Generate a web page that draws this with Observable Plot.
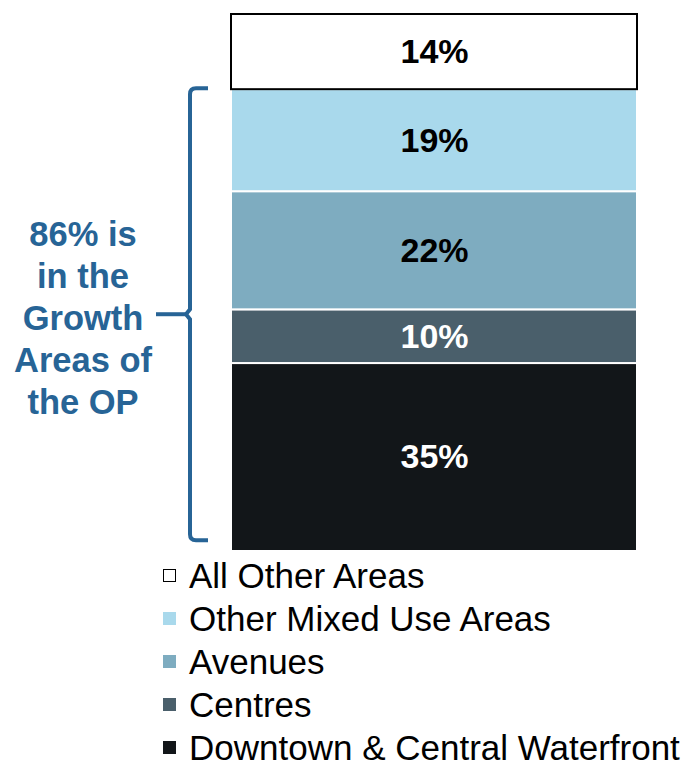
<!DOCTYPE html>
<html>
<head>
<meta charset="utf-8">
<script src="https://cdn.jsdelivr.net/npm/d3@7"></script>
<script src="https://cdn.jsdelivr.net/npm/@observablehq/plot@0.6"></script>
<style>
  body { margin: 0; background: #fff; font-family: "Liberation Sans", Arial, sans-serif; overflow: hidden; }
  #wrap { width: 688px; }
  .legend { padding-left: 163px; }
  .row { height: 43px; display: flex; align-items: center; font-size: 35px; color: #000; white-space: nowrap; }
  .sw { width: 13px; height: 13px; margin-right: 13px; box-sizing: border-box; flex: none; }
</style>
</head>
<body>
<div id="wrap"></div>
<script>
// Legend order (top to bottom of the bar)
const categories = ["All Other Areas", "Other Mixed Use Areas", "Avenues", "Centres", "Downtown & Central Waterfront"];
const shares = [14, 19, 22, 10, 35];
const colors = ["#ffffff", "#a9d9ec", "#7eacc0", "#4a5f6b", "#121619"];
const labelColors = ["#000000", "#000000", "#000000", "#ffffff", "#ffffff"];
const outlineColors = ["#000000", "#ffffff", "#ffffff", "#ffffff", "#ffffff"];
const annotationLines = ["86% is", "in the", "Growth", "Areas of", "the OP"];
const growthShare = 86;
const accent = "#276496";

const rows = categories.map((c, i) => ({
  category: c, value: shares[i], fill: colors[i], label: shares[i] + "%",
  labelColor: labelColors[i], outline: outlineColors[i], group: "Total"
})).reverse(); // stack from bottom

const chart = Plot.plot({
  width: 688,
  height: 554,
  marginTop: 14,
  marginBottom: 3,
  marginLeft: 231,
  marginRight: 51,
  x: { type: "band", domain: ["Total"], padding: 0, axis: null },
  y: { domain: [0, 100], axis: null },
  marks: [
    Plot.barY(rows, Plot.stackY({
      x: "group", y: "value", fill: d => d.fill, stroke: d => d.outline,
      strokeWidth: 2, order: null
    })),
    Plot.text(rows, Plot.stackY({
      x: "group", y: "value", text: "label", fill: d => d.labelColor,
      fontSize: 34, fontWeight: "bold", order: null
    }))
  ],
  style: { fontFamily: "'Liberation Sans', Arial, sans-serif", overflow: "visible" }
});
document.getElementById("wrap").appendChild(chart);

// Brace + annotation using the chart's y scale
const ys = chart.scale("y");
const yTop = ys.apply(growthShare) - 1;
const yBot = ys.apply(2);
const yMid = (yTop + yBot) / 2;
const svg = d3.select(chart);
const g = svg.append("g").attr("fill", "none").attr("stroke", accent).attr("stroke-width", 4);
const xv = 190, xr = 208, r = 6, tip = 4;
g.append("path").attr("d",
  `M${xr},${yTop} L${xv + r},${yTop} Q${xv},${yTop} ${xv},${yTop + r}
   L${xv},${yMid - 5} L${xv - tip},${yMid} L${xv},${yMid + 5}
   L${xv},${yBot - r} Q${xv},${yBot} ${xv + r},${yBot} L${xr},${yBot}`);
g.append("line").attr("x1", 156).attr("x2", xv - tip).attr("y1", yMid).attr("y2", yMid);

const t = svg.append("text").attr("fill", accent).attr("font-weight", "bold")
  .attr("font-size", 34.5).attr("text-anchor", "middle")
  .attr("font-family", "'Liberation Sans', Arial, sans-serif");
annotationLines.forEach((line, i) => {
  t.append("tspan").attr("x", 83).attr("y", yMid + 16 + (i - 2) * 42).text(line);
});

// Legend
const legend = d3.select("#wrap").append("div").attr("class", "legend");
categories.forEach((c, i) => {
  const row = legend.append("div").attr("class", "row");
  row.append("div").attr("class", "sw")
    .style("background", colors[i])
    .style("border", i === 0 ? "1.5px solid #000" : "none");
  row.append("span").text(c);
});
</script>
</body>
</html>
